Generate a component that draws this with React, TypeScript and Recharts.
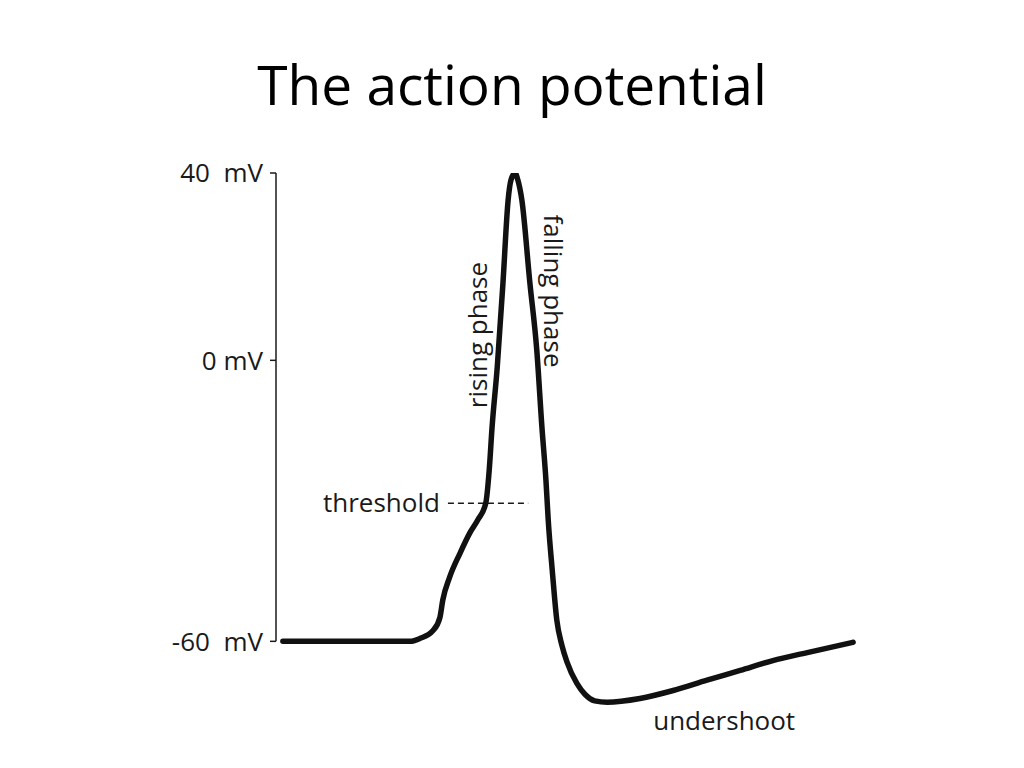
import React from "react";
import {
  LineChart,
  Line,
  XAxis,
  YAxis,
  ReferenceLine,
  ReferenceDot,
} from "recharts";

// time (arbitrary ms) and membrane potential (mV)
const times = [
  0, 1.17, 2.22, 2.39, 2.62, 2.74, 2.79, 2.91, 3.09, 3.26, 3.4, 3.54, 3.6,
  3.65, 3.74, 3.84, 3.93, 3.98, 4.05, 4.1, 4.17, 4.31, 4.43, 4.52, 4.59, 4.63,
  4.7, 4.78, 4.87, 4.96, 5.13, 5.27, 5.44, 5.66, 6.23, 6.81, 7.4, 7.98, 8.55,
  9.15, 9.95,
];
const voltages = [
  -60, -60, -60, -59.4, -57.7, -54.9, -51.2, -46.3, -41.2, -36.9, -34.1,
  -30.5, -23.5, -14.3, -1.5, 16.5, 34.2, 38.5, 40, 38.5, 34.2, 16.5, 2.2,
  -14.3, -25.6, -34.1, -44.8, -55.5, -60.9, -64.5, -69, -71.3, -72.7, -73,
  -72.2, -70.5, -68.3, -66.2, -64.1, -62.4, -60.2,
];
const yTicks = [40, 0, -60];
const yTickLabels: Record<number, string> = {
  40: "40\u00a0\u00a0mV",
  0: "0 mV",
  "-60": "-60\u00a0\u00a0mV",
};
const threshold = -30.5;

const data = times.map((t, i) => ({ t, v: voltages[i] }));

const FONT = "'Open Sans', 'Noto Sans', sans-serif";
const INK = "#1a1a1a";

const labelStyle = {
  position: "center" as const,
  fontSize: 26,
  fontFamily: FONT,
  fill: INK,
};

export default function App() {
  return (
    <div
      style={{
        position: "absolute",
        left: 0,
        top: 0,
        width: 1024,
        height: 768,
        background: "#fff",
      }}
    >
      <div
        style={{
          position: "absolute",
          left: 0,
          top: 48,
          width: 1024,
          textAlign: "center",
          fontFamily: FONT,
          fontSize: 55,
          color: "#000",
          lineHeight: "72px",
        }}
      >
        The action potential
      </div>
      <div style={{ position: "absolute", left: 0, top: 0 }}>
        <LineChart
          width={1024}
          height={768}
          data={data}
          margin={{ top: 173, right: 168, bottom: 33, left: 0 }}
        >
          <XAxis
            type="number"
            dataKey="t"
            domain={[-0.12, 10]}
            hide
            allowDataOverflow
          />
          <YAxis
            type="number"
            domain={[-80, 40]}
            ticks={yTicks}
            width={276}
            axisLine={false}
            tickSize={6}
            tickMargin={7}
            tickLine={{ stroke: INK, strokeWidth: 1.5 }}
            tick={{ fontSize: 26, fontFamily: FONT, fill: INK }}
            tickFormatter={(v: number) => yTickLabels[v]}
            allowDataOverflow
          />
          <ReferenceLine
            segment={[
              { x: -0.12, y: 40 },
              { x: -0.12, y: -60 },
            ]}
            stroke={INK}
            strokeWidth={1.5}
            ifOverflow="visible"
          />
          <ReferenceLine
            segment={[
              { x: 2.88, y: threshold },
              { x: 4.28, y: threshold },
            ]}
            stroke={INK}
            strokeWidth={1.5}
            strokeDasharray="6 4"
            label={{
              value: "threshold",
              position: "left",
              offset: 8,
              fontSize: 26,
              fontFamily: FONT,
              fill: INK,
            }}
          />
          <Line
            type="monotone"
            dataKey="v"
            stroke="#111"
            strokeWidth={5.5}
            dot={false}
            strokeLinecap="round"
            strokeLinejoin="round"
            isAnimationActive={false}
          />
          <ReferenceDot
            x={3.4}
            y={5.4}
            r={0}
            stroke="none"
            fill="none"
            label={{ ...labelStyle, value: "rising phase", angle: -90 }}
          />
          <ReferenceDot
            x={4.71}
            y={14.8}
            r={0}
            stroke="none"
            fill="none"
            label={{ ...labelStyle, value: "falling phase", angle: 90 }}
          />
          <ReferenceDot
            x={7.7}
            y={-76.9}
            r={0}
            stroke="none"
            fill="none"
            label={{ ...labelStyle, value: "undershoot" }}
          />
        </LineChart>
      </div>
    </div>
  );
}
